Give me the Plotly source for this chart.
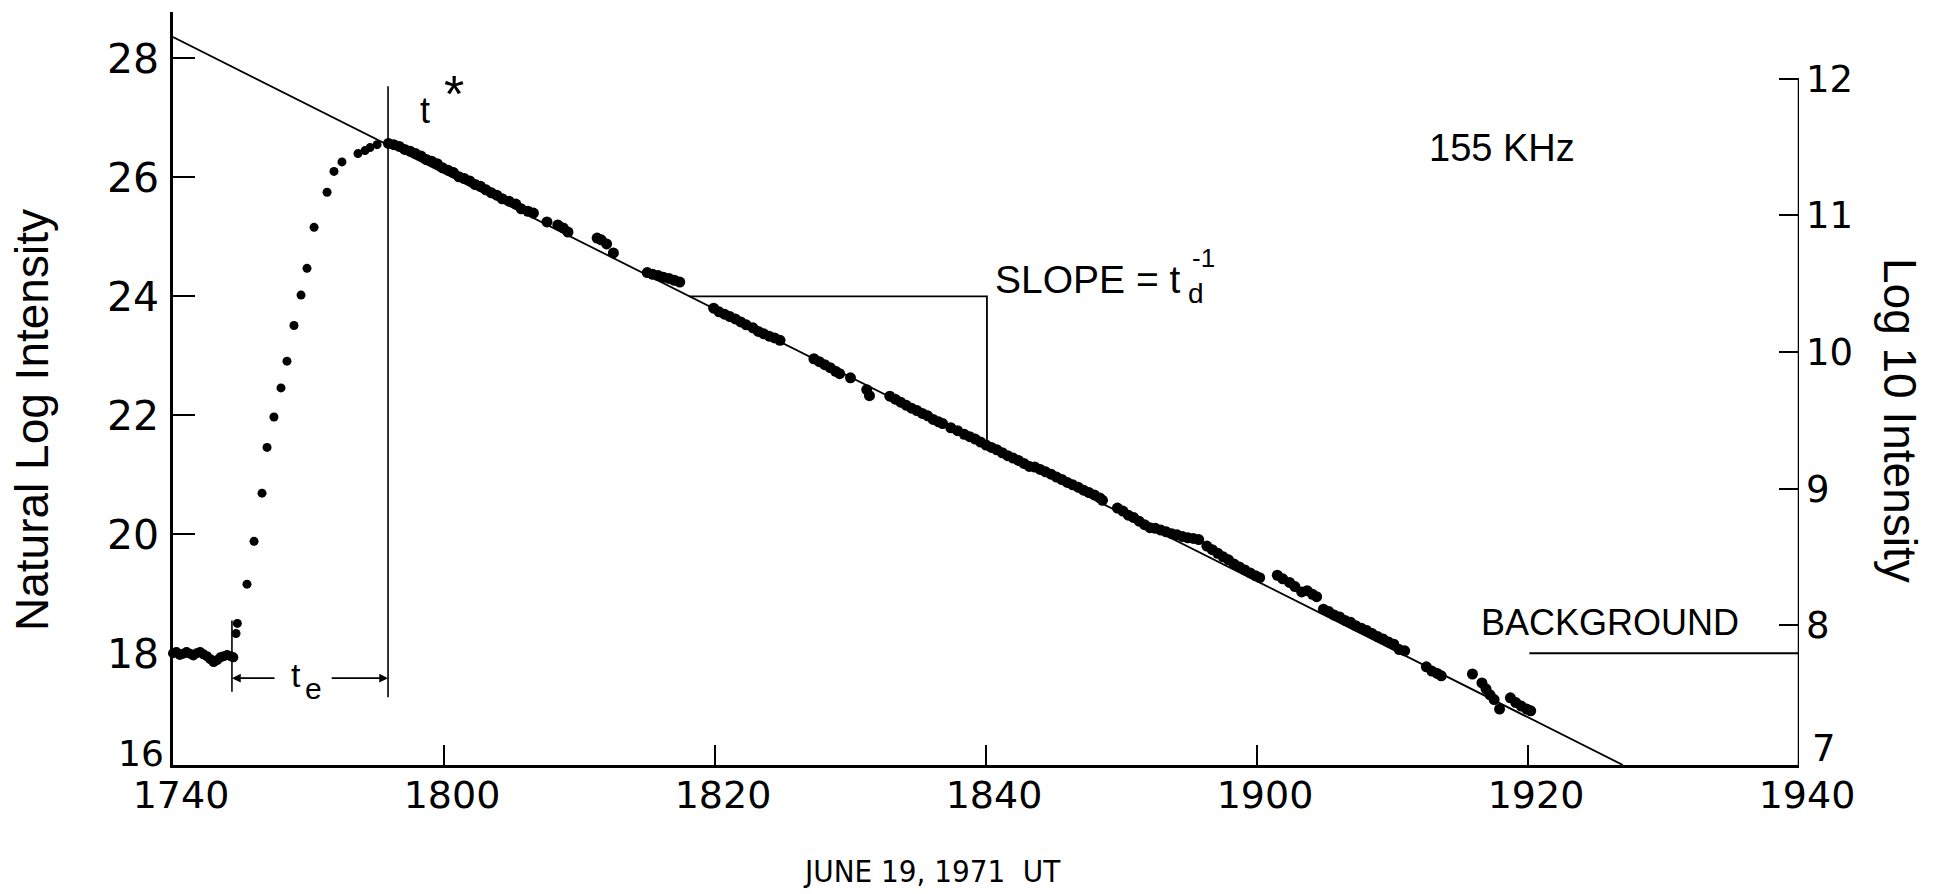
import plotly.graph_objects as go

# Time axis: minutes after 17:40 UT on 19 June 1971
tick_minutes = [0, 20, 40, 60, 80, 100, 120]
tick_labels = ["1740", "1800", "1820", "1840", "1900", "1920", "1940"]
ln_ticks = [18, 20, 22, 24, 26, 28]
log10_ticks = [8, 9, 10, 11, 12]

# Pre-burst level
pre_min = [0.0, 0.25, 0.5, 0.75, 1.0, 1.25, 1.5, 1.75, 2.0, 2.25, 2.5, 2.75,
           3.0, 3.25, 3.5, 3.75, 4.0, 4.25, 4.45]
pre_ln = [18.00, 18.02, 17.97, 17.99, 18.02, 17.99, 17.96, 18.00, 18.02, 17.98,
          17.95, 17.90, 17.85, 17.88, 17.93, 17.95, 17.97, 17.95, 17.93]

# Rise of the burst
rise_min = [4.65, 4.75, 5.46, 5.98, 6.57, 6.94, 7.45, 7.97, 8.41, 8.93, 9.45,
            9.89, 10.41, 11.37, 11.88, 12.47, 13.65, 14.17, 14.54, 15.06]
rise_ln = [18.33, 18.50, 19.16, 19.88, 20.69, 21.46, 21.97, 22.46, 22.91, 23.51,
           24.02, 24.47, 25.16, 25.75, 26.10, 26.26, 26.40, 26.45, 26.50, 26.55]

# Exponential decay after t*
decay_min = [
    15.9, 16.3, 16.7, 17.1, 17.5, 17.9, 18.3, 18.7, 19.1, 19.5, 19.9, 20.3,
    20.7, 21.1, 21.5, 21.9, 22.3, 22.7, 23.1, 23.5, 23.9, 24.3, 24.8, 25.3,
    25.7, 26.2, 26.6,
    27.6, 28.4, 28.8, 29.15,
    31.3, 31.6, 32.0, 32.5,
    35.0, 35.4, 35.8, 36.2, 36.6, 37.0, 37.4,
    39.9, 40.3, 40.7, 41.1, 41.5, 41.9, 42.3, 42.8, 43.2, 43.6, 44.0, 44.4, 44.8,
    47.3, 47.7, 48.1, 48.5, 48.9, 49.2, 50.0, 51.2, 51.4,
    52.9, 53.3, 53.7, 54.1, 54.5, 54.9, 55.3, 55.7, 56.1, 56.5, 56.8,
    57.4, 57.9, 58.4, 58.8, 59.2, 59.6, 60.0,
    60.4, 60.8, 61.2, 61.6, 62.0, 62.4, 62.8, 63.2,
    63.6, 64.0, 64.4, 64.8, 65.2, 65.6, 66.0, 66.4, 66.8, 67.2, 67.6, 68.0,
    68.4, 68.6,
    69.7, 70.1, 70.5, 70.9, 71.3, 71.7, 72.1,
    72.5, 72.9, 73.3, 73.7, 74.1, 74.5, 74.9, 75.3, 75.7,
    76.3, 76.7, 77.1, 77.5, 77.9, 78.3, 78.7, 79.1, 79.5, 79.9, 80.2,
    81.5, 81.9, 82.4, 82.8, 83.3, 83.7, 84.1, 84.4,
    84.9, 85.3, 85.7, 86.1, 86.5, 86.9, 87.3, 87.7, 88.1, 88.5, 88.9, 89.3,
    89.7, 90.1, 90.5, 90.9,
    92.5, 92.9, 93.3, 93.6,
    95.9, 96.6, 96.9, 97.2, 97.5, 97.9, 98.7, 99.1, 99.5, 99.9, 100.2,
]
decay_ln = [
    26.57, 26.55, 26.52, 26.47, 26.44, 26.40, 26.36, 26.30, 26.27, 26.23, 26.16,
    26.12, 26.08, 26.01, 25.98, 25.94, 25.88, 25.85, 25.79, 25.74, 25.70, 25.64,
    25.60, 25.55, 25.47, 25.43, 25.40,
    25.25, 25.20, 25.15, 25.08,
    24.98, 24.95, 24.88, 24.73,
    24.40, 24.37, 24.35, 24.32, 24.30, 24.27, 24.24,
    23.80, 23.74, 23.70, 23.66, 23.62, 23.57, 23.52, 23.47, 23.41, 23.37, 23.33,
    23.30, 23.26,
    22.95, 22.90, 22.85, 22.80, 22.74, 22.70, 22.63, 22.43, 22.33,
    22.32, 22.27, 22.22, 22.17, 22.12, 22.08, 22.03, 21.99, 21.93, 21.89, 21.86,
    21.79, 21.74, 21.68, 21.64, 21.60, 21.55, 21.50,
    21.46, 21.42, 21.37, 21.32, 21.28, 21.24, 21.19, 21.14,
    21.13, 21.09, 21.05, 21.01, 20.96, 20.92, 20.87, 20.83, 20.79, 20.74, 20.70,
    20.66, 20.61, 20.57,
    20.44, 20.39, 20.32, 20.28, 20.22, 20.16, 20.11,
    20.10, 20.07, 20.04, 20.01, 19.99, 19.96, 19.94, 19.93, 19.91,
    19.80, 19.74, 19.68, 19.62, 19.57, 19.50, 19.45, 19.40, 19.35, 19.30, 19.27,
    19.31, 19.25, 19.19, 19.12, 19.03, 19.05, 18.99, 18.95,
    18.74, 18.70, 18.64, 18.61, 18.55, 18.52, 18.46, 18.42, 18.38, 18.33, 18.28,
    18.24, 18.19, 18.15, 18.06, 18.04,
    17.77, 17.70, 17.66, 17.62,
    17.65, 17.50, 17.40, 17.30, 17.22, 17.06, 17.25, 17.17, 17.11, 17.06, 17.03,
]

# Fitted decay line
fit_min = [0.0, 107.0]
fit_ln = [28.36, 16.12]

# Construction marks
t_star_min = 15.87
t_star_span = [17.26, 27.53]
onset_min = 4.35
onset_span = [17.35, 18.55]
te_ln = 17.58
slope_x = [38.1, 60.07, 60.07]
slope_y = [24.0, 24.0, 21.49]
background_min = [100.1, 120.0]
background_ln = [18.0, 18.0]

X_RANGE = [0, 120]
LN_RANGE = [16.12, 28.78]
LOG10_RANGE = [6.977, 12.489]

# Plot area in pixels
L, R, T, B = 173, 1799, 12, 765
W, H = 1936, 894


def px(xp):
    return (xp - L) / (R - L)


def py(yp):
    return (B - yp) / (B - T)


TICK_FONT = "DejaVu Sans"
TEXT_FONT = "Liberation Sans, Arial, sans-serif"
NARROW_FONT = "Liberation Sans Narrow, DejaVu Sans Condensed, Liberation Sans, sans-serif"
INK = "black"

fig = go.Figure()

fig.add_trace(go.Scatter(x=pre_min, y=pre_ln, mode="markers",
                         marker=dict(color=INK, size=10),
                         cliponaxis=False, showlegend=False))
fig.add_trace(go.Scatter(x=rise_min, y=rise_ln, mode="markers",
                         marker=dict(color=INK, size=9),
                         cliponaxis=False, showlegend=False))
fig.add_trace(go.Scatter(x=decay_min, y=decay_ln, mode="markers",
                         marker=dict(color=INK, size=11),
                         cliponaxis=False, showlegend=False))
fig.add_trace(go.Scatter(x=fit_min, y=fit_ln, mode="lines",
                         line=dict(color=INK, width=1.8), showlegend=False))
fig.add_trace(go.Scatter(x=[t_star_min, t_star_min], y=t_star_span, mode="lines",
                         line=dict(color=INK, width=1.6), showlegend=False))
fig.add_trace(go.Scatter(x=[onset_min, onset_min], y=onset_span, mode="lines",
                         line=dict(color=INK, width=1.6), showlegend=False))
fig.add_trace(go.Scatter(x=slope_x, y=slope_y, mode="lines",
                         line=dict(color=INK, width=1.8), showlegend=False))
fig.add_trace(go.Scatter(x=background_min, y=background_ln, mode="lines",
                         line=dict(color=INK, width=2), showlegend=False))
# empty trace so the right-hand axis is active
fig.add_trace(go.Scatter(x=[None], y=[None], yaxis="y2", showlegend=False))

# right-hand axis line stops at the top tick (12)
fig.add_shape(type="line", xref="x", yref="y2", x0=120, x1=120,
              y0=LOG10_RANGE[0], y1=12, line=dict(color=INK, width=2.5))

annotations = []

# t_e arrows
for tail, head in [(7.6, onset_min), (11.6, t_star_min)]:
    annotations.append(dict(x=head, y=te_ln, ax=tail, ay=te_ln, xref="x", yref="y",
                            axref="x", ayref="y", text="", showarrow=True,
                            arrowhead=2, arrowsize=1.1, arrowwidth=1.6,
                            arrowcolor=INK, standoff=0, startstandoff=0))


def label(text, xp, yp, size, family=TEXT_FONT, xanchor="center", yanchor="middle",
          angle=0):
    annotations.append(dict(text=text, x=px(xp), y=py(yp), xref="paper", yref="paper",
                            showarrow=False, xanchor=xanchor, yanchor=yanchor,
                            textangle=angle, font=dict(family=family, size=size, color=INK)))


label("t", 296, 675, 34)
label("e", 313, 688, 30)
label("t", 425, 110, 36)
label("*", 454, 94, 52)
label("SLOPE = t", 993, 279, 39, xanchor="left")
label("d", 1196, 293, 28)
label("-1", 1203, 258, 26)
label("155 KHz", 1502, 148, 38)
label("BACKGROUND", 1610, 622, 36)
label("16", 166, 753, 36, family=TICK_FONT, xanchor="right")
label("7", 1810, 748, 37, family=TICK_FONT, xanchor="left")
label("JUNE 19, 1971  UT", 932, 871, 31, family=NARROW_FONT)
label("Natural Log Intensity", 32, 420, 46, angle=-90)
label("Log 10 Intensity", 1900, 420, 46, angle=90)

fig.update_layout(
    width=W, height=H,
    margin=dict(l=L, r=W - R, t=T, b=H - B, pad=0),
    paper_bgcolor="white", plot_bgcolor="white",
    showlegend=False,
    annotations=annotations,
    xaxis=dict(range=X_RANGE, tickvals=tick_minutes, ticktext=tick_labels,
               ticks="inside", ticklen=20, tickwidth=2, tickcolor=INK,
               showline=True, linewidth=2.5, linecolor=INK, showgrid=False,
               zeroline=False, ticklabelstandoff=-5, ticklabelshift=8,
               tickfont=dict(family=TICK_FONT, size=38, color=INK)),
    yaxis=dict(range=LN_RANGE, tickvals=ln_ticks, ticks="inside", ticklen=22,
               tickwidth=2, tickcolor=INK, showline=True, linewidth=2.5,
               linecolor=INK, showgrid=False, zeroline=False,
               ticklabelstandoff=3,
               tickfont=dict(family=TICK_FONT, size=41, color=INK)),
    yaxis2=dict(range=LOG10_RANGE, tickvals=log10_ticks, overlaying="y", side="right",
                ticks="inside", ticklen=20, tickwidth=2, tickcolor=INK,
                showline=False, showgrid=False, zeroline=False,
                ticklabelstandoff=6,
                tickfont=dict(family=TICK_FONT, size=37, color=INK)),
)

fig.write_html("out.html")
